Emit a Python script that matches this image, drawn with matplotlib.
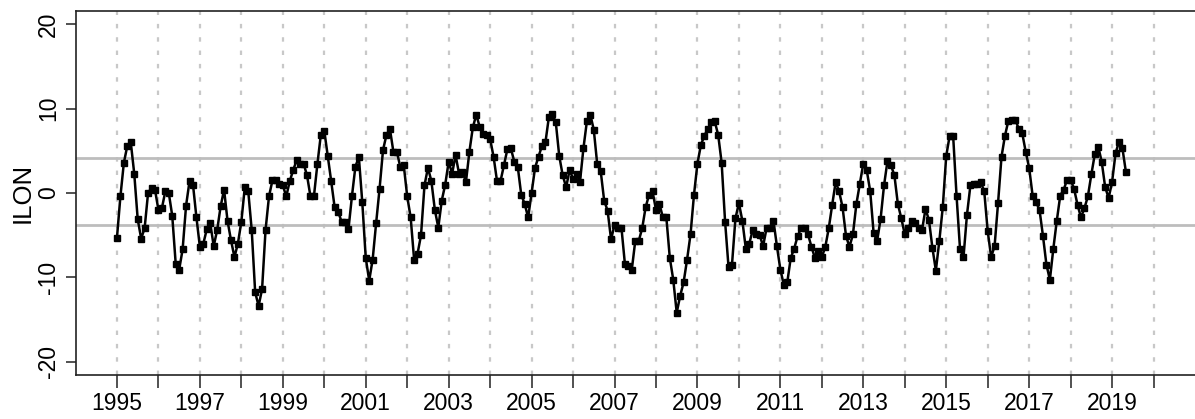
import numpy as np
import matplotlib
matplotlib.use("Agg")
import matplotlib.pyplot as plt

# Monthly ILON values, starting January 1995
start_year = 1995
ilon = [
    -5.3, -0.4, 3.6, 5.6, 6.0, 2.3, -3.1, -5.4, -4.2, 0.0, 0.6, 0.4,        # 1995
    -2.0, -1.8, 0.2, 0.0, -2.7, -8.4, -9.1, -6.7, -1.5, 1.4, 1.0, -2.9,     # 1996
    -6.4, -6.0, -4.3, -3.6, -6.3, -4.4, -1.6, 0.4, -3.3, -5.6, -7.6, -6.0,  # 1997
    -3.4, 0.7, 0.2, -4.4, -11.8, -13.4, -11.4, -4.4, -0.4, 1.5, 1.5, 1.1,   # 1998
    0.9, -0.4, 1.4, 2.7, 3.9, 3.5, 3.5, 2.1, -0.4, -0.4, 3.4, 6.9,          # 1999
    7.4, 4.4, 1.4, -1.7, -2.2, -3.4, -3.4, -4.3, -0.4, 3.1, 4.3, -1.1,      # 2000
    -7.7, -10.4, -7.9, -3.6, 0.5, 5.1, 6.9, 7.6, 4.9, 4.9, 3.1, 3.3,        # 2001
    -0.4, -2.9, -7.9, -7.2, -5.0, 0.9, 3.0, 1.4, -2.0, -4.1, -0.9, 1.0,     # 2002
    3.7, 2.3, 4.5, 2.3, 2.5, 1.3, 4.9, 7.8, 9.3, 7.8, 7.0, 6.9,             # 2003
    6.4, 4.3, 1.4, 1.4, 3.3, 5.2, 5.3, 3.7, 3.1, -0.2, -1.3, -2.9,          # 2004
    0.0, 3.0, 4.3, 5.6, 6.0, 9.0, 9.4, 8.4, 4.4, 2.1, 0.7, 2.7,             # 2005
    1.7, 2.2, 1.3, 5.3, 8.5, 9.3, 7.5, 3.4, 2.6, -0.9, -2.1, -5.5,          # 2006
    -3.8, -4.1, -4.1, -8.4, -8.7, -9.1, -5.7, -5.7, -4.2, -1.7, -0.2, 0.2,  # 2007
    -2.0, -1.3, -2.9, -2.9, -7.7, -10.3, -14.2, -12.2, -10.6, -7.9, -4.9, -0.2,  # 2008
    3.5, 5.7, 6.8, 7.6, 8.4, 8.5, 6.9, 3.6, -3.4, -8.8, -8.5, -3.0,         # 2009
    -1.2, -3.3, -6.6, -6.0, -4.4, -4.9, -5.0, -6.3, -4.2, -4.2, -3.3, -6.3, # 2010
    -9.1, -10.9, -10.6, -7.7, -6.6, -5.1, -4.2, -4.2, -4.9, -6.4, -7.7, -6.9,  # 2011
    -7.6, -6.4, -4.2, -1.4, 1.3, 0.2, -1.7, -5.1, -6.4, -4.9, -1.3, 1.1,    # 2012
    3.5, 2.7, 0.2, -4.8, -5.7, -3.1, 0.9, 3.8, 3.3, 2.1, -1.3, -3.0,        # 2013
    -4.9, -4.2, -3.3, -3.6, -4.2, -4.4, -1.9, -3.2, -6.5, -9.2, -5.7, -1.7, # 2014
    4.4, 6.8, 6.8, -0.4, -6.7, -7.6, -2.6, 0.9, 1.1, 1.1, 1.3, 0.2,         # 2015
    -4.5, -7.6, -6.3, -1.2, 4.3, 6.8, 8.6, 8.7, 8.7, 7.6, 7.1, 4.9,         # 2016
    3.0, -0.3, -1.1, -2.0, -5.1, -8.5, -10.3, -6.6, -3.3, -0.3, 0.4, 1.6,   # 2017
    1.6, 0.5, -1.4, -2.9, -1.8, -0.4, 2.2, 4.6, 5.5, 3.7, 0.7, -0.6,        # 2018
    1.3, 4.7, 6.1, 5.3, 2.5,                                                 # 2019
]
thresholds = [4.1, -3.8]
year_ticks = list(range(1995, 2021))
year_labels = [str(y) if y % 2 == 1 and y < 2020 else "" for y in year_ticks]
y_ticks = [-20, -10, 0, 10, 20]
y_label = "ILON"

t = start_year + np.arange(len(ilon)) / 12.0

plt.rcParams['font.family'] = ['Liberation Sans', 'DejaVu Sans']

W, H = 1195, 419
fig = plt.figure(figsize=(W / 100, H / 100), dpi=100)
ax = fig.add_axes([75.5 / W, 44 / H, (1195 - 75.5) / W, (375 - 11) / H])

for y in year_ticks:
    ax.axvline(y, color='#c8c8c8', lw=1.6, ls=(0, (2, 4)), zorder=1)
for h in thresholds:
    ax.axhline(h, color='#bdbdbd', lw=2.0, zorder=2)

ax.plot(t, ilon, color='black', lw=1.8, marker='s', ms=4.6,
        markerfacecolor='black', markeredgecolor='black', zorder=3)

ax.set_xlim(1994, 2021)
ax.set_ylim(-21.6, 21.6)
ax.set_xticks(year_ticks)
ax.set_xticklabels(year_labels, fontsize=16.5)
ax.set_yticks(y_ticks)
ax.set_yticklabels([str(v) for v in y_ticks], fontsize=16.5, rotation=90, va='center')
ax.tick_params(axis='x', direction='out', length=9, width=1.2, pad=3, colors='#333333', labelcolor='black')
ax.tick_params(axis='y', direction='out', length=7, width=1.2, pad=4, colors='#333333', labelcolor='black')
ax.set_ylabel(y_label, fontsize=18.5, labelpad=2)

for s in ['left', 'bottom', 'top']:
    ax.spines[s].set_linewidth(1.2)
    ax.spines[s].set_color('#222222')
ax.spines['right'].set_visible(False)

fig.savefig('out.png', dpi=100)
